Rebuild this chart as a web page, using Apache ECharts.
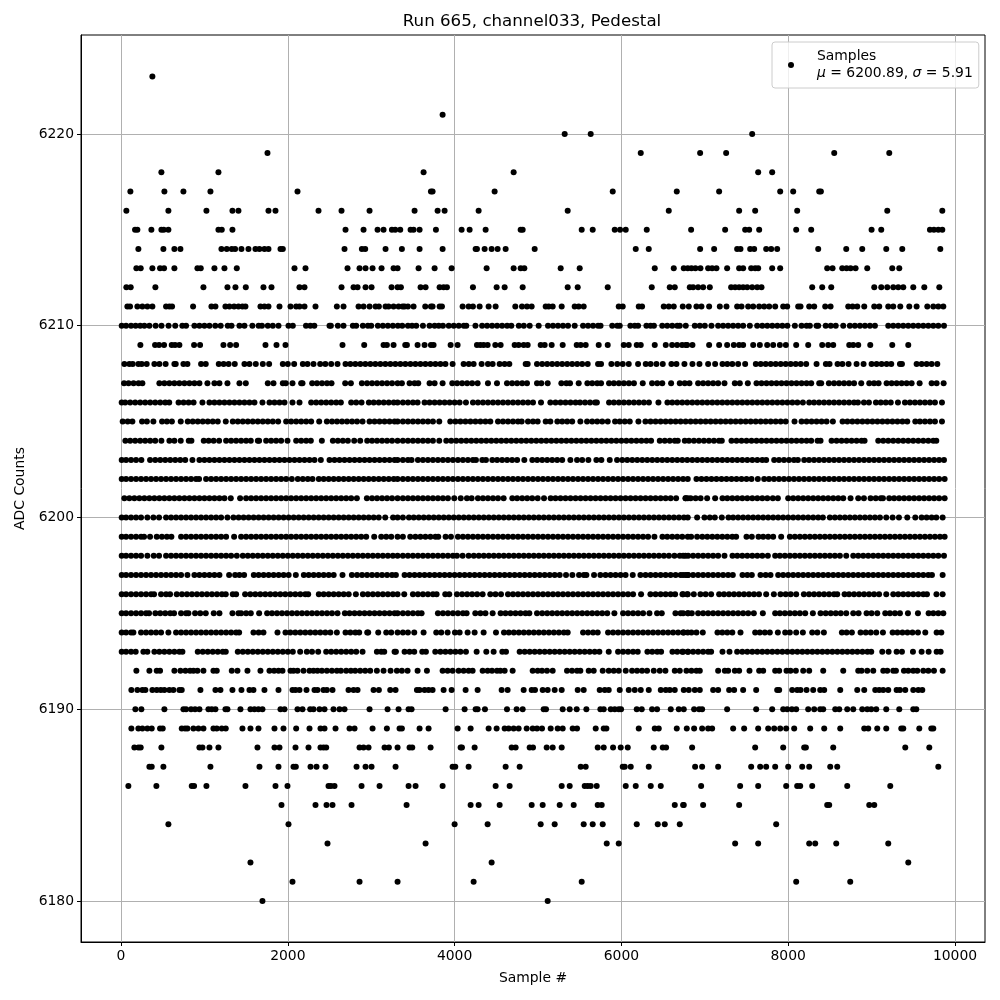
<!DOCTYPE html>
<html><head><meta charset="utf-8">
<script src="https://cdn.jsdelivr.net/npm/echarts@6/dist/echarts.min.js"></script>
<style>html,body{margin:0;padding:0;background:#fff}#c{width:1000px;height:1000px}</style>
</head><body><div id="c"></div>
<script>
const chartTitle='Run 665, channel033, Pedestal';
const xLabel='Sample #', yLabel='ADC Counts';
const xTicks=[0,2000,4000,6000,8000,10000];
const yTicks=[6180,6190,6200,6210,6220];
const a6223=[376];
const a6221=[3856];
const a6220=[5320,5632,7568];
const a6219=[1756,6232,6944,7256,8552,9212];
const a6218=[484,1168,3628,4708,7640,7808];
const a6217=[112,520,748,1072,2116,3716,3736,4480,5896,6664,7172,7904,8060,8372,8392];
const a6216=[64,568,1024,1336,1408,1768,1852,2368,2644,2980,3520,3796,3880,4288,5356,6568,7412,7604,8108,9188,9848];
const a6215=[168,196,364,484,512,568,1168,1208,1336,2692,2908,3076,3148,3248,3288,3348,3472,3508,3580,3776,4084,4180,4372,4792,4816,5524,5656,5920,5984,6052,6304,6836,7244,7484,7532,7652,8096,8276,9000,9116,9700,9748,9800,9848];
const a6214=[208,508,640,712,1204,1268,1328,1368,1444,1528,1612,1660,1720,1768,1912,1940,2680,2888,2928,3172,3368,3580,3856,4252,4268,4360,4444,4516,4612,4960,6172,6328,6944,7112,7388,7428,7544,7592,7736,7796,7868,8360,8696,8888,9176,9368,9824];
const a6213=[184,236,376,468,516,640,916,956,1120,1240,1388,2080,2212,2716,2860,2932,3016,3124,3268,3316,3568,3760,3964,4384,4708,4792,4836,5272,5500,6400,6628,6748,6796,6840,6888,6948,7040,7088,7140,7268,7412,7460,7556,7604,7640,7808,7904,8468,8532,8648,8700,8748,8808,8948,9248,9332];
const a6212=[64,116,412,988,1276,1372,1496,1708,1804,2140,2200,2644,2788,2836,2932,3004,3244,3316,3356,3592,3652,3820,3868,3908,4220,4504,4600,4816,5356,5476,5836,6364,6580,6640,6820,6860,6920,6980,7060,7316,7364,7412,7460,7508,7568,7628,7680,8288,8408,8516,9032,9116,9188,9260,9320,9380,9500,9632,9812];
const a6211=[76,108,196,256,316,376,540,580,612,864,1084,1132,1252,1300,1356,1408,1456,1492,1672,1720,1768,1900,2032,2100,2140,2200,2332,2588,2668,2848,2908,2980,3052,3092,3172,3208,3268,3328,3376,3400,3440,3508,3648,3716,3736,3820,3848,4096,4168,4220,4300,4408,4492,4728,4808,4868,4924,5092,5128,5176,5284,5440,5488,5548,5968,6016,6208,6248,6508,6568,6628,6736,6808,6900,6960,7052,7180,7260,7388,7440,7520,7580,7652,7712,7772,7844,7940,7988,8120,8148,8252,8312,8444,8508,8720,8772,8828,8912,9032,9092,9200,9260,9344,9452,9540,9668,9740,9800,9860];
const a6210=[8,60,120,175,230,280,340,415,485,570,650,735,780,880,940,1000,1060,1130,1195,1280,1325,1420,1480,1575,1650,1690,1760,1820,1888,2008,2060,2218,2270,2318,2500,2516,2600,2668,2780,2820,2900,2960,3000,3080,3140,3200,3260,3320,3372,3440,3490,3540,3620,3700,3760,3810,3860,3930,3990,4050,4110,4140,4250,4330,4390,4450,4510,4570,4630,4680,4770,4830,4900,5008,5120,5180,5240,5300,5360,5440,5540,5600,5660,5720,5750,5890,5950,5980,6108,6160,6200,6300,6350,6390,6490,6550,6610,6670,6700,6772,6880,6940,7000,7080,7160,7220,7280,7340,7400,7460,7540,7628,7690,7750,7810,7870,7930,7990,8080,8160,8220,8260,8340,8360,8450,8510,8570,8660,8740,8800,8860,8920,8980,9040,9200,9260,9320,9380,9440,9500,9560,9620,9680,9740,9800,9868];
const a6209=[232,408,456,516,608,648,700,876,948,1228,1308,1380,1732,1864,1972,2656,2916,3148,3188,3268,3408,3428,3556,3640,3716,3748,3952,4036,4268,4308,4348,4396,4488,4552,4720,4768,4828,4876,5032,5080,5164,5296,5464,5512,5572,5728,5836,6028,6088,6184,6232,6400,6532,6608,6668,6728,6772,6788,6852,7052,7172,7268,7348,7412,7460,7580,7660,7748,7820,7900,7972,8096,8240,8408,8480,8540,8732,8780,8840,8984,9248,9440];
const a6208=[40,100,140,208,248,308,400,460,535,640,656,748,796,960,1016,1172,1230,1290,1364,1480,1540,1616,1700,1776,1940,2000,2076,2180,2236,2308,2388,2450,2520,2596,2692,2750,2810,2870,2930,2990,3050,3110,3170,3230,3290,3350,3410,3470,3530,3590,3650,3710,3770,3830,3890,3976,4108,4170,4228,4324,4400,4456,4540,4600,4656,4852,4876,4988,5050,5110,5170,5230,5290,5350,5410,5470,5530,5596,5720,5756,5880,5950,6016,6088,6200,6292,6350,6420,6496,6600,6660,6756,6852,6936,7040,7124,7212,7270,7330,7400,7484,7612,7670,7730,7790,7850,7910,7970,8030,8090,8150,8216,8340,8452,8496,8592,8650,8724,8820,8904,9000,9060,9120,9180,9236,9340,9364,9540,9600,9660,9720,9788];
const a6207=[36,90,150,210,256,460,520,580,640,700,760,820,880,940,1036,1120,1180,1276,1420,1496,1760,1828,1940,1976,2056,2160,2176,2292,2350,2410,2470,2524,2688,2756,2888,2950,3010,3070,3130,3190,3250,3316,3368,3460,3520,3564,3700,3760,3856,3972,4030,4090,4150,4210,4276,4400,4508,4628,4690,4750,4810,4868,4988,5040,5116,5280,5340,5384,5488,5592,5650,5710,5756,5852,5910,5970,6030,6090,6150,6256,6368,6430,6490,6596,6700,6760,6816,6920,6980,7040,7100,7160,7236,7360,7420,7516,7620,7680,7740,7800,7860,7920,7980,8040,8100,8160,8220,8276,8372,8396,8488,8550,8610,8670,8730,8790,8876,8972,9030,9084,9180,9240,9300,9360,9420,9480,9576,9720,9780,9864];
const a6206=[8,50,110,170,230,290,350,410,470,530,578,690,750,810,870,976,1060,1120,1180,1240,1300,1360,1420,1480,1540,1600,1696,1780,1840,1900,1960,2056,2140,2280,2340,2400,2460,2520,2580,2636,2760,2820,2884,2972,3030,3090,3150,3210,3270,3316,3380,3440,3500,3556,3640,3700,3760,3820,3880,3940,4000,4060,4136,4220,4280,4340,4400,4460,4520,4580,4640,4700,4760,4820,4880,4940,5036,5148,5210,5270,5330,5390,5450,5504,5564,5624,5684,5706,5852,5910,5970,6030,6090,6150,6210,6270,6330,6444,6552,6610,6670,6730,6790,6850,6910,6970,7030,7090,7150,7210,7270,7330,7390,7450,7510,7570,7630,7690,7750,7810,7870,7930,7990,8050,8110,8176,8252,8310,8370,8430,8490,8550,8610,8670,8730,8790,8836,8908,8968,9052,9110,9170,9230,9316,9400,9460,9520,9580,9640,9700,9760,9844];
const a6205=[20,80,136,252,310,388,492,550,610,716,800,860,920,980,1040,1100,1160,1256,1340,1400,1460,1520,1580,1640,1700,1760,1820,1884,1980,2040,2100,2160,2220,2280,2376,2468,2530,2590,2650,2710,2770,2830,2896,2980,3040,3100,3160,3220,3280,3316,3380,3440,3500,3560,3620,3680,3740,3816,3948,4010,4070,4130,4190,4250,4310,4370,4428,4520,4580,4640,4700,4760,4804,4880,4940,4996,5092,5148,5232,5290,5350,5410,5508,5588,5650,5710,5770,5836,5924,5980,6040,6100,6204,6288,6350,6410,6470,6530,6590,6650,6710,6770,6830,6890,6950,7010,7070,7130,7190,7250,7310,7370,7430,7490,7550,7610,7670,7730,7790,7850,7910,7970,8076,8160,8220,8280,8340,8400,8460,8536,8652,8710,8770,8830,8890,8950,9010,9070,9130,9190,9250,9310,9370,9428,9524,9580,9640,9700,9760,9844];
const a6204=[52,110,170,230,290,350,410,484,580,640,716,812,844,992,1050,1110,1176,1260,1320,1380,1440,1500,1556,1640,1656,1740,1800,1860,1920,1996,2100,2160,2220,2276,2408,2540,2600,2660,2720,2796,2868,2952,3010,3070,3130,3190,3250,3316,3380,3440,3500,3560,3620,3680,3740,3816,3900,3960,4020,4080,4140,4200,4260,4320,4380,4440,4500,4560,4620,4680,4740,4800,4860,4920,4980,5040,5100,5160,5220,5280,5340,5400,5460,5520,5580,5640,5700,5760,5820,5880,5940,6000,6060,6120,6180,6240,6300,6356,6460,6520,6580,6640,6676,6760,6810,6870,6930,6990,7050,7110,7170,7204,7320,7380,7440,7500,7560,7620,7680,7740,7800,7860,7920,7980,8040,8100,8160,8220,8276,8352,8388,8520,8580,8640,8700,8760,8820,8880,8916,9080,9140,9200,9260,9320,9380,9440,9500,9560,9620,9680,9740,9776];
const a6203=[8,60,120,180,244,348,410,470,530,590,650,710,770,856,940,1000,1060,1120,1180,1240,1300,1360,1420,1480,1540,1600,1660,1720,1780,1840,1900,1960,2020,2080,2140,2200,2260,2320,2396,2500,2560,2620,2680,2740,2800,2860,2920,2980,3040,3100,3160,3220,3280,3316,3380,3440,3484,3560,3620,3680,3740,3800,3860,3920,3980,4040,4100,4160,4220,4256,4332,4376,4452,4510,4570,4630,4690,4750,4836,4932,4990,5050,5110,5170,5230,5290,5388,5468,5530,5604,5700,5760,5860,5948,6010,6070,6130,6190,6250,6310,6370,6430,6490,6550,6610,6670,6730,6790,6850,6910,6970,7030,7090,7150,7210,7270,7330,7390,7450,7510,7570,7630,7690,7736,7832,7890,7950,8010,8070,8116,8192,8250,8310,8370,8430,8490,8550,8610,8670,8730,8790,8850,8910,8970,9030,9090,9150,9210,9270,9330,9390,9450,9510,9570,9630,9690,9750,9810,9868];
const a6202=[8,60,120,180,240,300,360,420,480,540,600,660,720,780,840,900,936,1020,1080,1140,1200,1260,1320,1380,1440,1500,1560,1620,1680,1740,1800,1860,1920,1980,2048,2120,2180,2240,2296,2372,2430,2490,2550,2610,2670,2730,2790,2850,2910,2970,3030,3090,3150,3210,3270,3316,3380,3440,3500,3560,3620,3680,3740,3800,3860,3920,3980,4040,4100,4160,4220,4280,4340,4400,4460,4520,4580,4640,4700,4760,4820,4880,4940,5000,5060,5120,5180,5240,5300,5360,5420,5480,5540,5600,5660,5720,5780,5840,5900,5960,6020,6080,6140,6200,6260,6320,6380,6440,6500,6560,6620,6680,6740,6796,6900,6960,7020,7080,7140,7200,7260,7320,7380,7440,7500,7560,7636,7712,7770,7830,7890,7950,8010,8070,8130,8190,8250,8310,8370,8430,8490,8550,8610,8670,8730,8790,8850,8910,8970,9030,9090,9150,9210,9270,9330,9390,9450,9510,9570,9630,9690,9750,9810,9876];
const a6201=[40,100,160,220,280,340,400,460,520,580,640,700,760,820,880,940,1000,1060,1120,1180,1240,1316,1428,1500,1560,1620,1680,1740,1800,1860,1920,1980,2040,2100,2160,2220,2280,2340,2400,2460,2520,2580,2640,2700,2760,2828,2948,3010,3070,3130,3190,3250,3316,3380,3440,3500,3560,3620,3680,3740,3800,3860,3920,3996,4074,4148,4204,4280,4340,4400,4460,4520,4588,4692,4750,4810,4870,4930,4996,5072,5152,5210,5270,5330,5390,5450,5510,5570,5630,5690,5750,5810,5870,5930,5990,6050,6110,6170,6230,6290,6350,6410,6470,6530,6590,6656,6768,6796,6772,6830,6890,6950,7028,7124,7212,7270,7330,7390,7450,7510,7570,7630,7690,7750,7816,7876,8000,8060,8120,8180,8240,8300,8360,8420,8480,8540,8600,8660,8748,8840,8908,8988,9050,9110,9136,9212,9270,9330,9390,9450,9510,9570,9630,9690,9750,9810,9876];
const a6200=[8,60,120,180,240,316,388,456,540,600,660,720,780,840,900,960,1020,1080,1140,1200,1276,1348,1410,1470,1530,1590,1650,1710,1770,1830,1890,1950,2010,2070,2130,2190,2250,2310,2370,2430,2490,2550,2610,2670,2730,2790,2850,2910,2970,3030,3090,3168,3262,3316,3380,3452,3510,3570,3630,3690,3750,3810,3870,3930,3990,4050,4110,4170,4230,4290,4350,4410,4470,4530,4590,4650,4710,4770,4830,4890,4950,5010,5070,5130,5190,5250,5310,5370,5430,5490,5550,5610,5670,5730,5790,5850,5910,5970,6030,6090,6150,6210,6270,6330,6390,6450,6510,6570,6630,6690,6750,6796,6908,6996,7060,7120,7204,7284,7340,7400,7460,7520,7580,7640,7700,7760,7820,7880,7940,8000,8060,8120,8180,8240,8300,8360,8416,8500,8560,8620,8680,8740,8800,8860,8920,8980,9040,9100,9176,9252,9328,9428,9524,9600,9660,9720,9776,9852];
const a6199=[8,60,120,180,240,276,348,428,490,550,604,720,780,840,900,960,1020,1080,1140,1200,1260,1356,1440,1500,1560,1620,1680,1740,1800,1860,1920,1980,2040,2100,2160,2220,2280,2340,2400,2460,2520,2580,2640,2700,2760,2820,2880,2940,3036,3120,3180,3240,3316,3380,3468,3530,3590,3650,3710,3770,3804,3892,3956,4040,4100,4160,4220,4280,4340,4400,4460,4520,4580,4640,4700,4760,4820,4880,4940,5000,5060,5120,5180,5240,5300,5360,5420,5480,5540,5600,5660,5720,5780,5840,5900,5960,6020,6080,6140,6200,6260,6320,6396,6492,6550,6610,6670,6730,6796,6836,6908,6970,7030,7090,7150,7210,7270,7330,7376,7500,7564,7644,7700,7760,7820,7916,8020,8080,8140,8200,8260,8320,8380,8440,8500,8560,8620,8680,8740,8800,8860,8920,8980,9040,9100,9160,9220,9280,9340,9400,9460,9520,9580,9640,9700,9760,9820,9876];
const a6198=[8,60,120,180,240,316,392,456,540,600,660,720,780,840,900,960,1020,1080,1140,1200,1260,1320,1388,1460,1520,1580,1640,1700,1760,1820,1880,1940,2000,2060,2120,2180,2240,2300,2360,2420,2480,2540,2600,2660,2720,2780,2840,2900,2960,3020,3080,3140,3200,3260,3316,3380,3440,3500,3560,3620,3680,3740,3800,3860,3920,3980,4028,4096,4168,4230,4290,4350,4410,4470,4530,4590,4650,4710,4770,4830,4890,4950,5010,5070,5130,5190,5250,5310,5370,5430,5490,5550,5610,5670,5730,5790,5850,5910,5970,6030,6090,6150,6210,6270,6330,6390,6450,6510,6570,6636,6700,6768,6740,6800,6860,6920,6980,7040,7100,7160,7236,7332,7390,7450,7510,7570,7630,7690,7756,7844,7900,7960,8020,8080,8140,8200,8260,8320,8380,8440,8500,8560,8620,8696,8780,8840,8900,8960,9020,9080,9140,9200,9260,9320,9380,9440,9500,9560,9620,9680,9740,9800,9868];
const a6197=[8,60,120,180,240,300,360,420,480,540,600,660,720,796,880,940,1000,1060,1120,1180,1296,1368,1420,1476,1592,1650,1710,1770,1830,1890,1950,2010,2096,2192,2250,2310,2370,2430,2490,2550,2656,2768,2830,2890,2950,3010,3070,3130,3190,3250,3296,3400,3460,3520,3580,3640,3700,3760,3820,3880,3940,4000,4060,4120,4180,4240,4300,4360,4420,4480,4540,4600,4660,4720,4780,4840,4900,4960,5020,5080,5140,5200,5260,5336,5412,5492,5550,5580,5672,5748,5810,5870,5930,5990,6050,6136,6228,6290,6350,6410,6470,6530,6590,6650,6710,6770,6796,6740,6800,6860,6920,6980,7040,7100,7160,7220,7280,7336,7452,7510,7564,7668,7730,7788,7880,7940,8000,8060,8120,8180,8240,8300,8360,8420,8480,8540,8600,8660,8720,8780,8840,8900,8960,9020,9080,9140,9200,9260,9320,9380,9440,9500,9560,9620,9680,9724,9852];
const a6196=[8,60,120,180,240,300,360,396,480,540,588,668,730,790,850,910,970,1030,1090,1150,1210,1256,1340,1380,1488,1550,1610,1670,1730,1790,1850,1910,1970,2030,2090,2150,2210,2244,2372,2430,2490,2550,2610,2670,2730,2816,2900,2960,3020,3080,3140,3200,3260,3316,3396,3500,3560,3620,3680,3740,3784,3888,3936,4028,4090,4150,4210,4270,4336,4428,4490,4556,4640,4700,4760,4820,4880,4940,5000,5060,5120,5180,5240,5300,5360,5420,5480,5540,5600,5660,5720,5780,5840,5900,5960,6020,6080,6140,6236,6348,6410,6470,6530,6590,6644,6732,6796,6740,6788,6868,6948,7010,7076,7172,7230,7290,7350,7410,7470,7530,7590,7650,7736,7828,7908,7970,8030,8096,8188,8250,8310,8370,8430,8490,8550,8588,8676,8730,8790,8850,8910,8970,9030,9090,9176,9260,9320,9380,9440,9500,9560,9620,9664,9778,9852];
const a6195=[8,60,120,180,240,300,336,412,470,530,590,636,720,780,808,888,950,1016,1112,1180,1336,1408,1440,1500,1556,1656,1752,1810,1870,1930,1990,2050,2110,2170,2230,2290,2350,2410,2470,2530,2596,2684,2740,2800,2860,2920,2980,3040,3100,3160,3220,3280,3316,3380,3440,3500,3560,3604,3800,3860,3920,3980,4040,4100,4144,4248,4310,4370,4456,4552,4610,4670,4730,4790,4850,4896,4988,5050,5110,5170,5230,5290,5350,5410,5470,5530,5590,5650,5710,5770,5830,5916,6020,6080,6140,6200,6260,6336,6428,6484,6648,6710,6796,6740,6800,6844,6920,6980,7040,7100,7160,7220,7280,7340,7400,7460,7520,7588,7696,7844,7900,7960,8020,8080,8140,8204,8296,8388,8450,8510,8570,8630,8696,8780,8844,8940,9000,9068,9164,9220,9280,9340,9436,9556,9684,9740,9800,9860];
const a6194=[8,60,120,148,240,300,360,420,480,568,660,720,780,840,900,960,1020,1080,1140,1200,1260,1320,1380,1416,1588,1650,1708,1876,1972,2030,2090,2150,2210,2270,2330,2390,2450,2510,2588,2692,2750,2810,2856,2952,2964,3084,3180,3240,3316,3380,3440,3516,3628,3780,3840,3916,4004,4060,4156,4240,4348,4496,4592,4650,4710,4770,4830,4890,4950,5010,5070,5130,5190,5250,5310,5356,5540,5600,5660,5716,5840,5900,5960,6020,6080,6140,6200,6260,6320,6380,6440,6500,6560,6620,6680,6740,6796,6748,6840,6900,6976,7152,7210,7270,7330,7428,7604,7660,7720,7780,7876,7964,8020,8096,8176,8288,8350,8428,8644,8700,8764,8868,8930,8990,9056,9136,9252,9310,9370,9430,9490,9556,9644,9780,9836];
const a6193=[8,60,120,176,268,316,400,460,520,580,640,700,736,920,980,1040,1100,1160,1220,1256,1400,1460,1520,1580,1640,1700,1760,1820,1880,1940,2000,2060,2148,2228,2290,2364,2460,2520,2580,2640,2700,2760,2820,2896,3068,3120,3156,3280,3296,3400,3460,3516,3612,3656,3768,3830,3890,3950,4010,4070,4136,4264,4380,4468,4572,4616,4780,4840,4900,4960,5020,5080,5140,5200,5260,5320,5380,5440,5500,5560,5620,5680,5736,5848,5960,6020,6080,6140,6196,6312,6370,6430,6476,6612,6670,6730,6796,6740,6800,6860,6920,6980,7040,7076,7212,7296,7388,7450,7510,7570,7630,7690,7750,7810,7870,7930,7990,8050,8110,8170,8230,8290,8350,8410,8470,8530,8590,8650,8710,8770,8830,8890,8950,8996,9128,9204,9300,9364,9496,9600,9684,9780,9828];
const a6192=[184,340,428,468,640,712,772,828,868,916,988,1108,1148,1328,1396,1516,1672,1780,1836,1888,1936,2032,2068,2116,2188,2260,2308,2356,2408,2468,2528,2588,2636,2700,2756,2808,2868,2928,2988,3068,3148,3232,3308,3368,3436,3556,3668,3856,3916,3976,4048,4108,4168,4216,4336,4396,4448,4508,4548,4600,4696,4936,4996,5048,5108,5176,5348,5408,5468,5508,5608,5668,5776,5848,5908,5968,6052,6128,6188,6248,6308,6388,6460,6528,6640,6700,6780,6840,6900,6940,7160,7240,7280,7360,7412,7536,7652,7700,7844,7892,7980,8028,8092,8180,8252,8420,8660,8840,8880,8948,9020,9140,9188,9260,9292,9388,9440,9500,9548,9620,9680,9748,9852];
const a6191=[124,196,256,292,376,428,476,520,580,628,700,728,952,1132,1192,1336,1444,1540,1588,1720,1888,2056,2092,2140,2224,2320,2356,2428,2468,2536,2728,2788,2836,3028,3092,3228,3292,3548,3580,3640,3688,3736,3868,3964,4132,4276,4564,4636,4828,4924,4964,5056,5116,5200,5284,5476,5548,5740,5800,5848,5980,6088,6160,6232,6328,6472,6532,6580,6640,6748,6808,6880,6940,7100,7160,7292,7352,7460,7616,7868,7892,8048,8108,8148,8220,8300,8384,8432,8624,8828,8912,9044,9092,9140,9200,9300,9340,9404,9500,9560,9608];
const a6190=[172,244,520,748,780,840,888,940,1048,1088,1132,1252,1276,1432,1552,1600,1648,1696,1912,1960,2116,2176,2268,2308,2380,2440,2548,2620,2680,2980,3196,3328,3448,3484,3892,4120,4252,4276,4364,4628,4744,4816,5068,5096,5296,5380,5464,5580,5748,5788,5872,5920,5968,5996,6184,6244,6368,6428,6592,6688,6748,6872,6932,6968,7268,7616,7808,7940,7988,8044,8096,8240,8312,8384,8420,8564,8612,8708,8780,8888,8948,8996,9056,9176,9332,9500,9536];
const a6189=[124,208,256,316,368,468,500,728,768,796,868,928,988,1108,1148,1208,1256,1456,1552,1648,1840,1948,2100,2260,2392,2440,2572,2740,2800,3016,3188,3340,3368,3580,3688,4036,4192,4408,4504,4600,4648,4708,4768,4864,4936,4988,5048,5152,5236,5296,5416,5468,5692,5788,5820,6208,6400,6448,6664,6784,6872,6968,7040,7088,7340,7472,7640,7760,7832,7904,7976,8072,8264,8432,8624,8912,8960,9068,9176,9356,9380,9572,9716,9740];
const a6188=[160,208,236,484,940,976,1060,1168,1636,1840,1900,2092,2248,2392,2428,2460,2860,2908,2968,3160,3212,3316,3460,3492,3712,4072,4088,4240,4684,4732,4900,4940,5104,5176,5284,5716,5788,5900,5992,6076,6388,6496,6536,6848,7604,7940,8192,8212,8540,9404,9692];
const a6187=[340,368,508,1072,1660,1888,2068,2096,2272,2344,2452,2824,2932,3004,3292,3976,4008,4168,4612,4780,5512,5572,6016,6040,6112,6328,6884,6968,7160,7556,7664,7736,7844,8000,8168,8252,8504,8588,9800];
const a6186=[88,424,848,876,1024,1492,1852,1996,2488,2516,2560,2884,3100,3448,3532,3856,4492,4660,5284,5380,5560,5596,5632,5704,6052,6172,6352,6472,6956,7424,7640,7976,8108,8144,8288,8708,9224];
const a6185=[1924,2332,2464,2536,2764,3424,4192,4288,4540,4924,5056,5260,5428,5716,5764,6640,6748,6740,6980,7412,8468,8492,8972,9032];
const a6184=[568,2008,4000,4396,5032,5200,5548,5656,5776,6184,6436,6520,6700,7856];
const a6183=[2476,3652,5824,5968,7364,7640,8252,8324,8576,9200];
const a6182=[1552,4444,9440];
const a6181=[2056,2860,3316,4228,5524,8096,8744];
const a6180=[1696,5116];
const rows=[[6223,a6223],[6221,a6221],[6220,a6220],[6219,a6219],[6218,a6218],[6217,a6217],[6216,a6216],[6215,a6215],[6214,a6214],[6213,a6213],[6212,a6212],[6211,a6211],[6210,a6210],[6209,a6209],[6208,a6208],[6207,a6207],[6206,a6206],[6205,a6205],[6204,a6204],[6203,a6203],[6202,a6202],[6201,a6201],[6200,a6200],[6199,a6199],[6198,a6198],[6197,a6197],[6196,a6196],[6195,a6195],[6194,a6194],[6193,a6193],[6192,a6192],[6191,a6191],[6190,a6190],[6189,a6189],[6188,a6188],[6187,a6187],[6186,a6186],[6185,a6185],[6184,a6184],[6183,a6183],[6182,a6182],[6181,a6181],[6180,a6180]];
const points=[];
rows.forEach(([level,xs])=>xs.forEach(x=>points.push([x,level])));
const font='"DejaVu Sans"';
const chart=echarts.init(document.getElementById('c'),null,{renderer:'canvas'});
const axisCommon={
  axisLine:{show:true,onZero:false,lineStyle:{color:'#000',width:1}},
  splitLine:{show:true,lineStyle:{color:'#b0b0b0',width:1}},
  nameLocation:'middle',
  nameTextStyle:{color:'#000',fontFamily:font,fontSize:13.9}
};
chart.setOption({
  animation:false,
  backgroundColor:'#fff',
  title:{text:chartTitle,left:532,top:13,textAlign:'center',textVerticalAlign:'top',textStyle:{fontFamily:font,fontWeight:'normal',fontSize:16.67,color:'#000',lineHeight:18},padding:0},
  grid:{left:81,top:35,width:904,height:907,show:true,borderColor:'#000',borderWidth:1,backgroundColor:'transparent'},
  legend:{show:true,left:772,top:42,orient:'vertical',icon:'circle',itemWidth:26,itemHeight:6,padding:[6,6,6,16],
    backgroundColor:'rgba(255,255,255,0.8)',borderColor:'#ccc',borderWidth:1,borderRadius:3,
    data:[{name:'Samples'}],
    formatter:()=>'Samples\n{i|μ} = 6200.89, {i|σ} = 5.91',
    textStyle:{fontFamily:font,fontSize:13.9,color:'#000',lineHeight:17,padding:[0,0,0,8],rich:{i:{fontFamily:font,fontStyle:'italic',fontSize:13.9,color:'#000',lineHeight:17}}}},
  xAxis:Object.assign({},axisCommon,{type:'value',min:-480,max:10360,name:xLabel,nameGap:29,
    axisTick:{show:true,length:4,customValues:xTicks,lineStyle:{color:'#000',width:1}},
    axisLabel:{customValues:xTicks,color:'#000',fontFamily:font,fontSize:13.9,margin:7,formatter:v=>String(v)}}),
  yAxis:Object.assign({},axisCommon,{type:'value',min:6177.86,max:6225.16,name:yLabel,nameGap:52,
    axisTick:{show:true,length:4,customValues:yTicks,lineStyle:{color:'#000',width:1}},
    axisLabel:{customValues:yTicks,color:'#000',fontFamily:font,fontSize:13.9,margin:7,formatter:v=>String(v)}}),
  series:[{name:'Samples',type:'scatter',data:points,symbol:'circle',symbolSize:6,large:false,progressive:0,itemStyle:{color:'#000',opacity:1},emphasis:{disabled:true}}]
});
</script></body></html>
